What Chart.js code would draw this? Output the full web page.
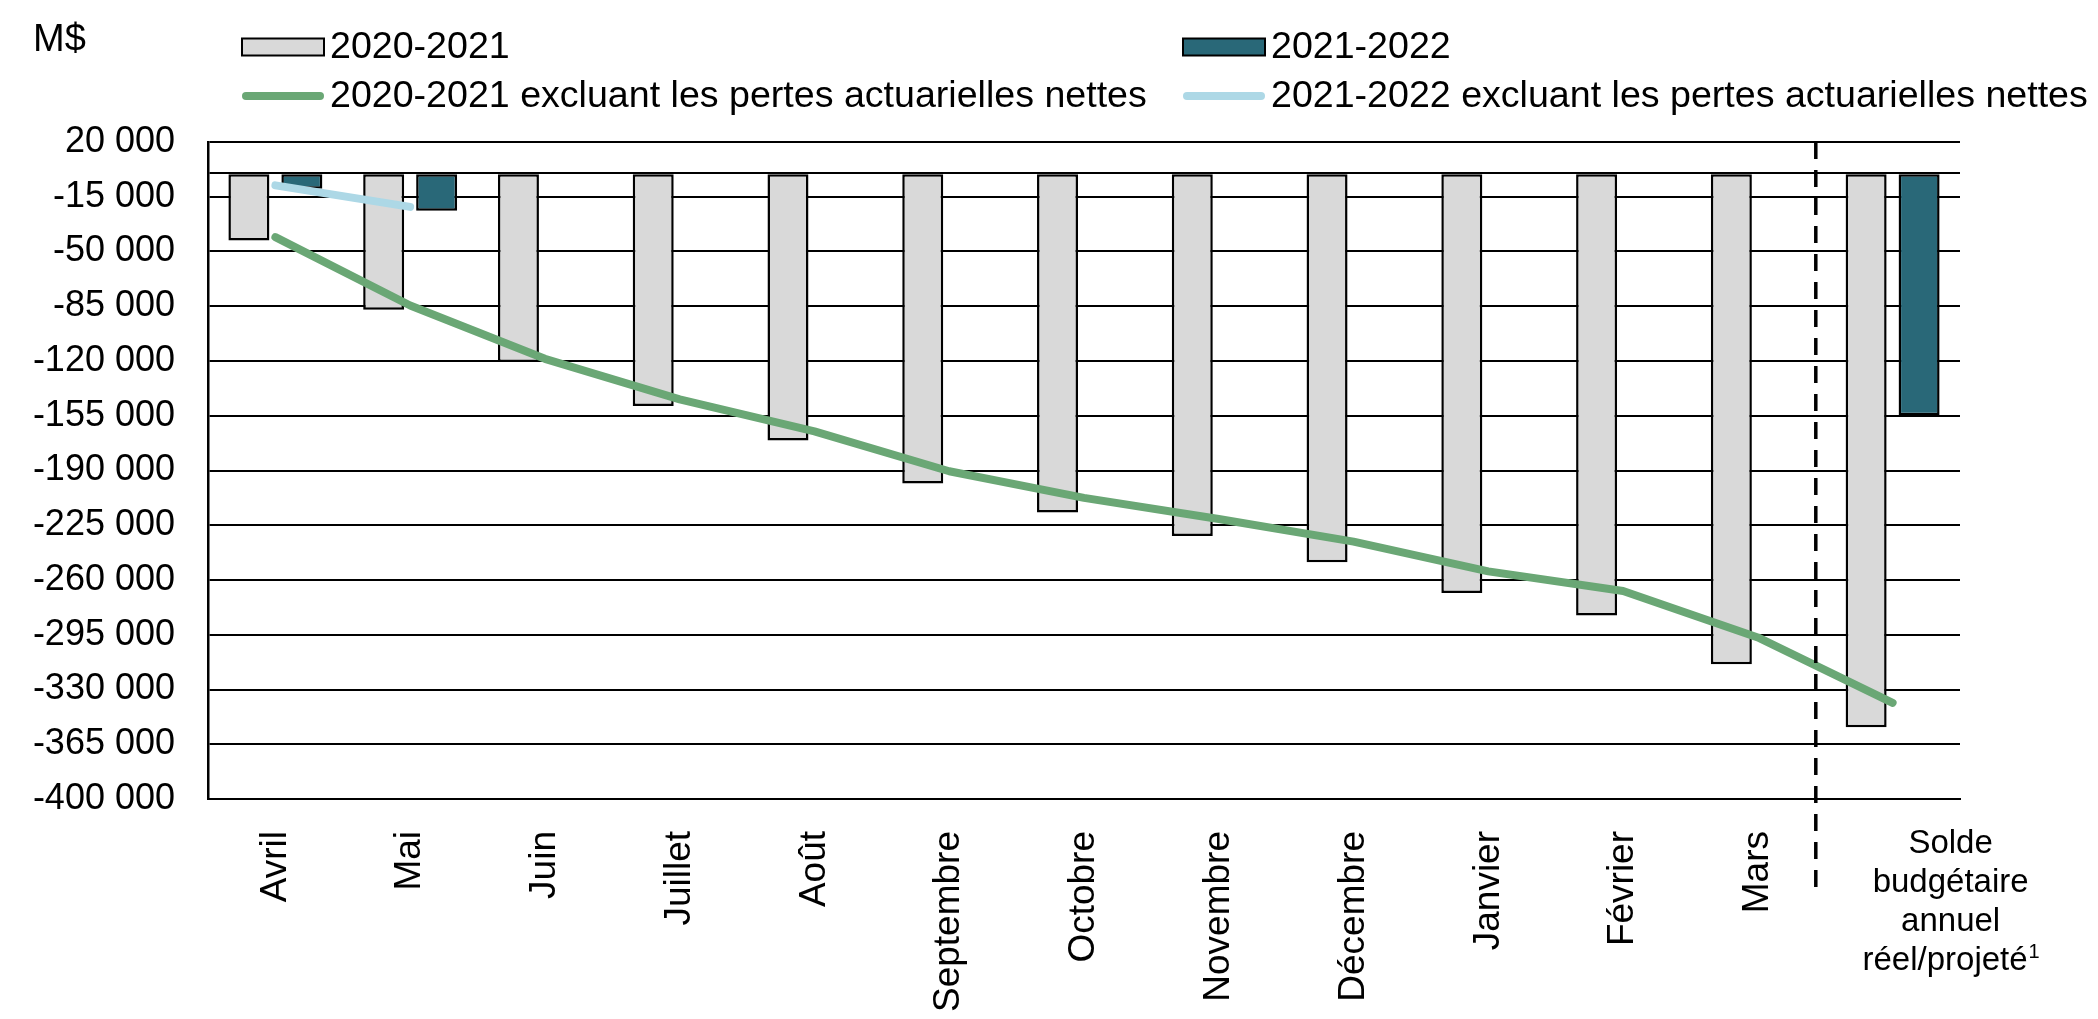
<!DOCTYPE html>
<html lang="fr">
<head>
<meta charset="utf-8">
<title>Solde budgétaire cumulatif</title>
<script src="https://cdn.jsdelivr.net/npm/chart.js@4.4.1/dist/chart.umd.min.js"></script>
<style>
  html, body { margin: 0; padding: 0; background: #fff; }
  #wrap { width: 2098px; height: 1019px; position: relative; }
</style>
</head>
<body>
<div id="wrap"><canvas id="soldeChart"></canvas></div>
<script>
/*---- donnees (M$) ----- */
var mois = ["Avril", "Mai", "Juin", "Juillet", "Août", "Septembre", "Octobre",
            "Novembre", "Décembre", "Janvier", "Février", "Mars"];
var soldeLignes = ["Solde", "budgétaire", "annuel", "réel/projeté"];
var soldeNote = "1";
var categories = mois.concat([soldeLignes.join(" ")]);

var solde2020 = [-43000, -87200, -120700, -148800, -170800, -198300, -216900,
                 -231900, -248600, -268300, -282700, -313800, -354200];
var solde2021 = [-9900, -24000, null, null, null, null, null,
                 null, null, null, null, null, -154700];
var horsPertes2020 = [-40800, -84500, -118600, -144500, -165000, -190500, -207500,
                      -221000, -235500, -254500, -267000, -296700, -338500];
var horsPertes2021 = [-7700, -21500, null, null, null, null, null,
                      null, null, null, null, null, null];

var libelles = ["2020-2021", "2021-2022",
                "2020-2021 excluant les pertes actuarielles nettes",
                "2021-2022 excluant les pertes actuarielles nettes"];

var yMin = -400000, yMax = 20000, yPas = 35000;

var police = '"Liberation Sans", Arial, sans-serif';
Chart.defaults.font.family = police;
Chart.defaults.color = '#000';

function formatMillions(v) {
  if (v === 0) return '';
  var s = String(Math.abs(v)).replace(/\B(?=(\d{3})+(?!\d))/g, ' ');
  return (v < 0 ? '-' : '') + s;
}

/*---- legende, M$, ligne pointillee, etiquette du solde ----- */
var decor = {
  id: 'decor',
  afterDraw: function (chart) {
    var ctx = chart.ctx, area = chart.chartArea, xs = chart.scales.x;
    ctx.save();
    ctx.fillStyle = '#000';
    ctx.textAlign = 'left';
    ctx.textBaseline = 'alphabetic';
    ctx.font = '38px ' + police;
    ctx.fillText('M$', 33, 51);

    var cols = [area.left + 34, area.left + 975];
    var rows = [47, 96];
    chart.data.datasets.forEach(function (ds, i) {
      var x = cols[i % 2], y = rows[Math.floor(i / 2)];
      if (ds.type === 'bar') {
        ctx.fillStyle = ds.backgroundColor;
        ctx.fillRect(x, y - 8.5, 82, 17);
        ctx.lineWidth = 2;
        ctx.strokeStyle = '#000';
        ctx.strokeRect(x, y - 8.5, 82, 17);
      } else {
        ctx.beginPath();
        ctx.lineCap = 'round';
        ctx.lineWidth = 8;
        ctx.strokeStyle = ds.borderColor;
        ctx.moveTo(x + 4, y);
        ctx.lineTo(x + 78, y);
        ctx.stroke();
      }
      ctx.fillStyle = '#000';
      ctx.font = '37.6px ' + police;
      ctx.fillText(ds.label, x + 88, y + 11);
    });

    // separation mois / solde annuel
    var p11 = xs.getPixelForValue(11), p12 = xs.getPixelForValue(12);
    var xd = p11 + (p12 - p11) * 0.43;
    ctx.beginPath();
    ctx.setLineDash([17, 11]);
    ctx.lineCap = 'butt';
    ctx.lineWidth = 3.5;
    ctx.strokeStyle = '#000';
    ctx.moveTo(xd, area.top);
    ctx.lineTo(xd, area.bottom + 98);
    ctx.stroke();
    ctx.setLineDash([]);

    // etiquette du solde annuel
    var cx = p12 + 58;
    ctx.font = '33px ' + police;
    ctx.textAlign = 'center';
    soldeLignes.forEach(function (t, k) {
      var yb = area.bottom + 54 + k * 39;
      if (k === soldeLignes.length - 1) {
        ctx.font = '33px ' + police;
        var w1 = ctx.measureText(t).width;
        ctx.font = '20px ' + police;
        var w2 = ctx.measureText(soldeNote).width;
        var x0 = cx - (w1 + w2) / 2;
        ctx.textAlign = 'left';
        ctx.font = '33px ' + police;
        ctx.fillText(t, x0, yb);
        ctx.font = '20px ' + police;
        ctx.fillText(soldeNote, x0 + w1 + 1, yb - 12);
      } else {
        ctx.fillText(t, cx, yb);
      }
    });
    ctx.restore();
  }
};

var ctx = document.getElementById('soldeChart').getContext('2d');
var soldeChart = new Chart(ctx, {
  data: {
    labels: categories,
    datasets: [{
      type: 'bar',
      label: libelles[0],
      data: solde2020,
      backgroundColor: '#d9d9d9',
      borderColor: '#000',
      borderWidth: 2.5,
      borderSkipped: false,
      barPercentage: 0.774,
      categoryPercentage: 0.786,
      order: 1
    }, {
      type: 'bar',
      label: libelles[1],
      data: solde2021,
      backgroundColor: '#296878',
      borderColor: '#000',
      borderWidth: 2.5,
      borderSkipped: false,
      barPercentage: 0.774,
      categoryPercentage: 0.786,
      order: 1
    }, {
      type: 'line',
      label: libelles[2],
      data: horsPertes2020,
      borderColor: '#6aa775',
      borderWidth: 8,
      borderCapStyle: 'round',
      borderJoinStyle: 'round',
      pointRadius: 0,
      tension: 0,
      fill: false,
      order: 0
    }, {
      type: 'line',
      label: libelles[3],
      data: horsPertes2021,
      borderColor: '#add8e6',
      borderWidth: 8,
      borderCapStyle: 'round',
      borderJoinStyle: 'round',
      pointRadius: 0,
      tension: 0,
      fill: false,
      order: 0
    }]
  },
  options: {
    responsive: true,
    maintainAspectRatio: false,
    animation: false,
    layout: { padding: { top: 142, right: 138, left: 0, bottom: 0 } },
    plugins: {
      legend: { display: false },
      tooltip: { enabled: false }
    },
    scales: {
      x: {
        grid: { display: false },
        border: { display: true, color: '#000', width: 2 },
        ticks: {
          autoSkip: false,
          minRotation: 90,
          maxRotation: 90,
          padding: 24,
          color: '#000',
          font: { size: 37 },
          callback: function (v, i) {
            return i === mois.length ? '' : this.getLabelForValue(v);
          }
        },
        afterFit: function (s) { s.height = 220; }
      },
      y: {
        min: yMin,
        max: yMax,
        ticks: {
          stepSize: yPas,
          autoSkip: false,
          padding: 33,
          color: '#000',
          font: { size: 36 },
          callback: formatMillions
        },
        grid: { color: '#000', lineWidth: 2, drawTicks: false },
        border: { color: '#000', width: 2.5 },
        afterBuildTicks: function (s) {
          s.ticks.push({ value: 0 });
          s.ticks.sort(function (a, b) { return a.value - b.value; });
        },
        afterFit: function (s) { s.width = 208; }
      }
    }
  },
  plugins: [decor]
});
</script>
</body>
</html>
